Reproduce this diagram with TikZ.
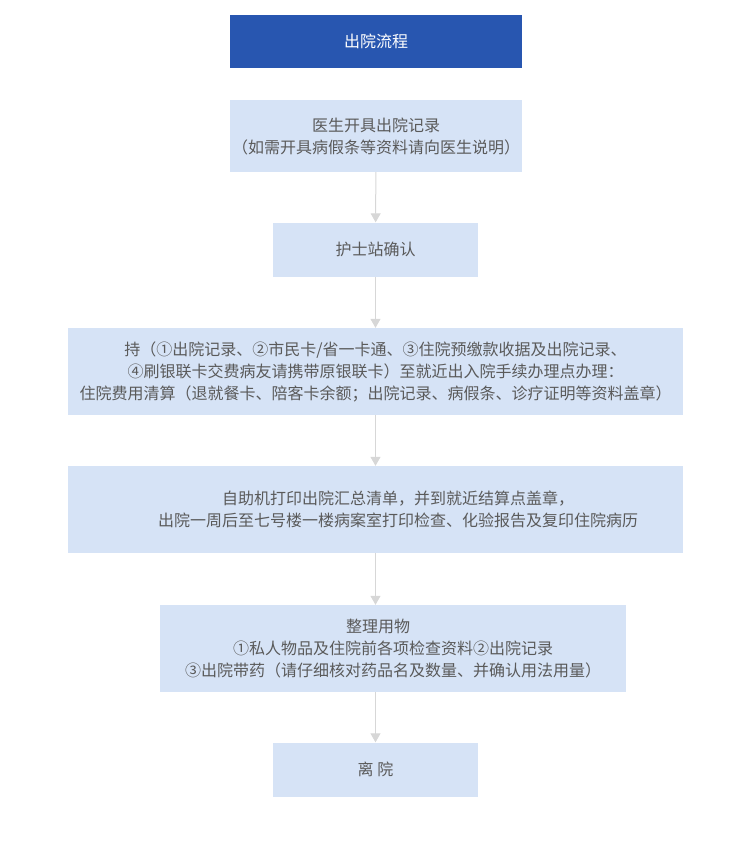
\documentclass[tikz,border=0pt]{standalone}
\usepackage{fontspec}
\setmainfont{Noto Sans CJK SC}
\usepackage{tikz}
\usetikzlibrary{arrows.meta}
\definecolor{titleblue}{RGB}{40,86,176}
\definecolor{boxblue}{RGB}{214,227,246}
\definecolor{txtgray}{RGB}{90,90,90}
\definecolor{arrowgray}{RGB}{215,215,215}

\begin{document}
\begin{tikzpicture}[x=1pt,y=-1pt,
    stepbox/.style={fill=boxblue, text=txtgray, align=center, inner sep=0pt,
      font=\fontsize{16}{22}\selectfont},
    flow/.style={draw=arrowgray, line width=1pt, -{Triangle[width=10pt,length=9pt]}}]
        \useasboundingbox (0,0) rectangle (737,850);

            \node[stepbox, fill=titleblue, text=white, minimum width=292pt, minimum height=53pt]
              (title) at (376,41.5) {出院流程};

            \node[stepbox, minimum width=292pt, minimum height=72pt] (doc) at (376,136)
              {医生开具出院记录\\（如需开具病假条等资料请向医生说明）};
            \node[stepbox, minimum width=205pt, minimum height=54pt] (nurse) at (375.5,249.5)
              {护士站确认};
            \node[stepbox, minimum width=615pt, minimum height=87pt] (settle) at (375.5,371.5)
              {持（①出院记录、②市民卡/省一卡通、③住院预缴款收据及出院记录、\\
               ④刷银联卡交费病友请携带原银联卡）至就近出入院手续办理点办理：\\
               住院费用清算（退就餐卡、陪客卡余额；出院记录、病假条、诊疗证明等资料盖章）};
            \node[stepbox, minimum width=615pt, minimum height=87pt] (print) at (375.5,509.5)
              {\hspace*{45pt}自助机打印出院汇总清单，并到就近结算点盖章，\\
               \hspace*{45pt}出院一周后至七号楼一楼病案室打印检查、化验报告及复印住院病历};
            \node[stepbox, minimum width=466pt, minimum height=87pt] (pack) at (393,648.5)
              {\hspace*{-30pt}整理用物\\
               ①私人物品及住院前各项检查资料②出院记录\\
               ③出院带药（请仔细核对药品名及数量、并确认用法用量）};
            \node[stepbox, minimum width=205pt, minimum height=54pt] (leave) at (375.5,769.5)
              {离 院};

            \draw[flow] (doc) -- (nurse);
            \draw[flow] (nurse) -- (settle);
            \draw[flow] (settle) -- (print);
            \draw[flow] (print.south) -- (print.south |- pack.north);
            \draw[flow] (leave.north |- pack.south) -- (leave);

        \end{tikzpicture}
\end{document}
